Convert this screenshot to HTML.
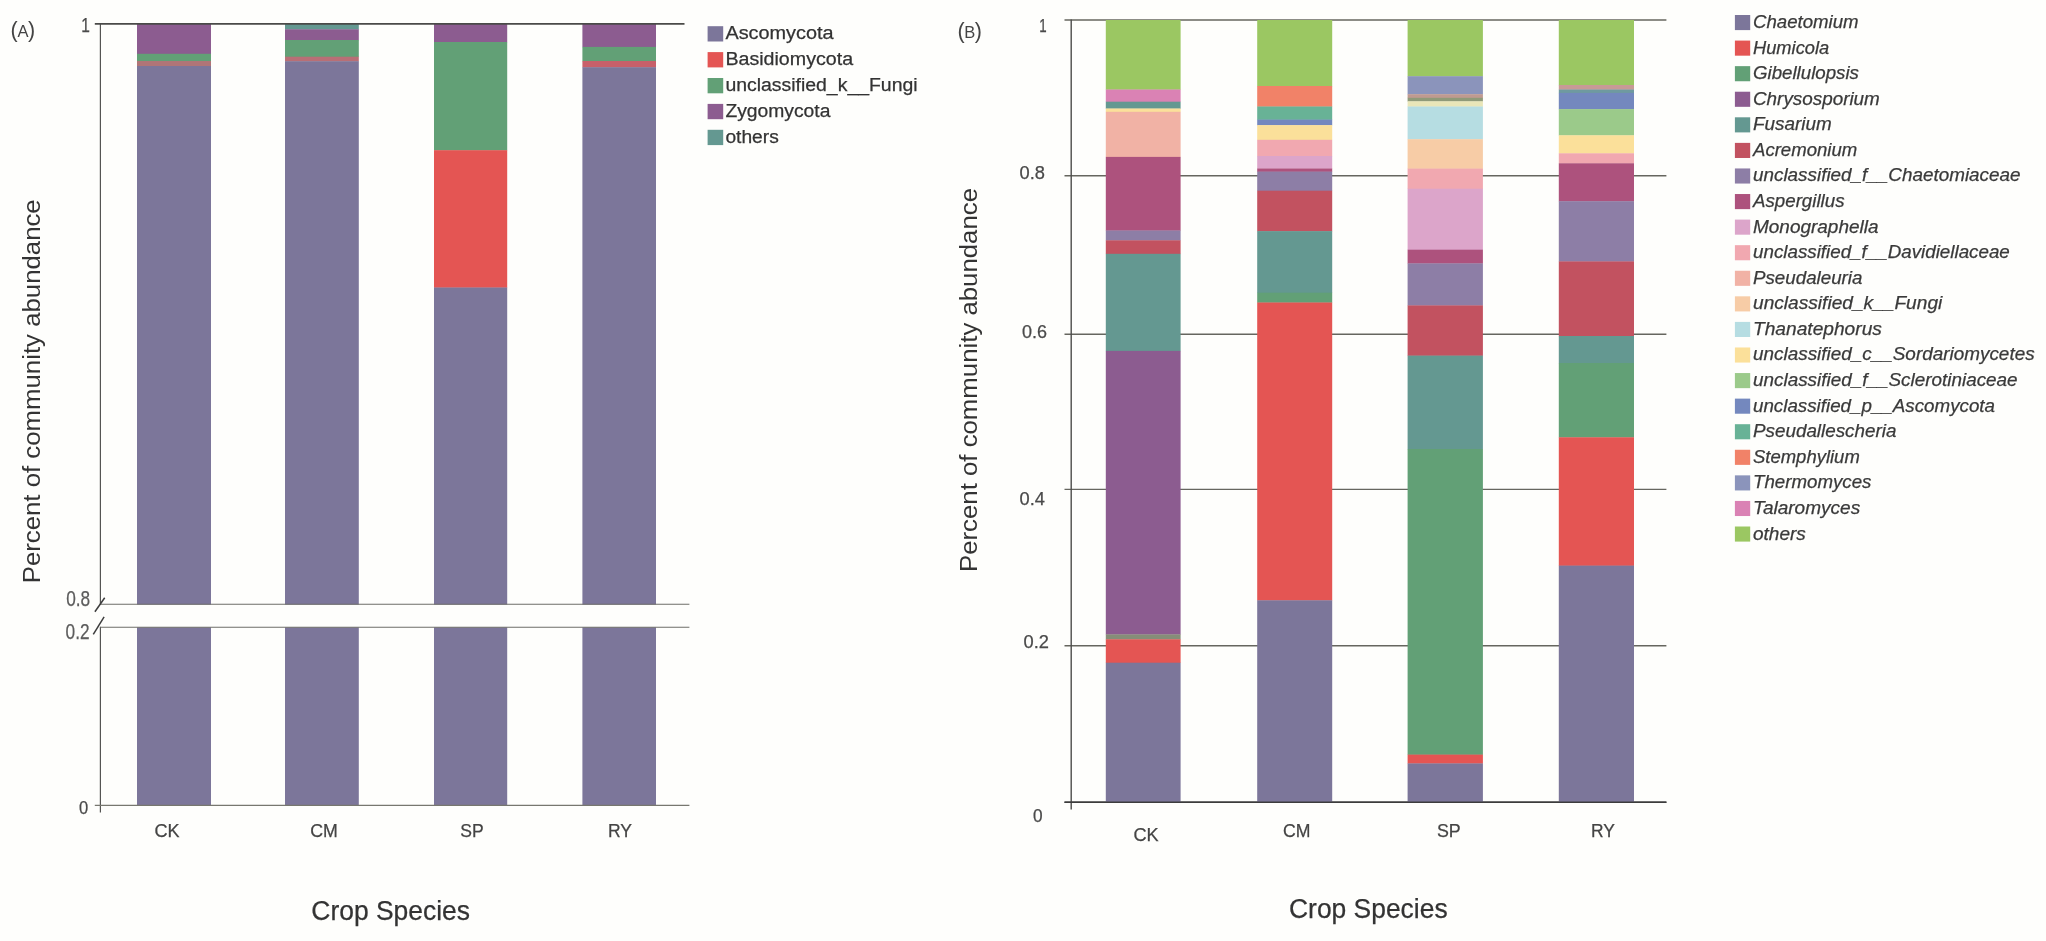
<!DOCTYPE html>
<html lang="en">
<head>
<meta charset="utf-8">
<title>Fungal community abundance</title>
<style>
html,body{margin:0;padding:0;background:#fefefc;}
body{width:2046px;height:941px;overflow:hidden;}
svg{display:block;font-family:"Liberation Sans",Arial,Helvetica,sans-serif;filter:blur(0.45px);}
</style>
</head>
<body>
<svg width="2046" height="941" viewBox="0 0 2046 941">
<rect x="0" y="0" width="2046" height="941" fill="#fefefc"/>
<rect x="137.00" y="23.60" width="74.00" height="30.50" fill="#8c5c90"/>
<rect x="137.00" y="53.80" width="74.00" height="7.50" fill="#62a076"/>
<rect x="137.00" y="61.00" width="74.00" height="5.30" fill="#b07577"/>
<rect x="137.00" y="66.00" width="74.00" height="538.60" fill="#7c769a"/>
<rect x="137.00" y="627.30" width="74.00" height="178.10" fill="#7c769a"/>
<rect x="285.00" y="23.60" width="73.80" height="6.00" fill="#649891"/>
<rect x="285.00" y="29.30" width="73.80" height="11.00" fill="#8c5c90"/>
<rect x="285.00" y="40.00" width="73.80" height="17.00" fill="#62a076"/>
<rect x="285.00" y="56.70" width="73.80" height="4.80" fill="#b86f76"/>
<rect x="285.00" y="61.20" width="73.80" height="543.40" fill="#7c769a"/>
<rect x="285.00" y="627.30" width="73.80" height="178.10" fill="#7c769a"/>
<rect x="434.00" y="23.60" width="73.20" height="18.70" fill="#8c5c90"/>
<rect x="434.00" y="42.00" width="73.20" height="108.50" fill="#62a076"/>
<rect x="434.00" y="150.20" width="73.20" height="137.60" fill="#e45553"/>
<rect x="434.00" y="287.50" width="73.20" height="317.10" fill="#7c769a"/>
<rect x="434.00" y="627.30" width="73.20" height="178.10" fill="#7c769a"/>
<rect x="582.40" y="23.60" width="73.60" height="23.60" fill="#8c5c90"/>
<rect x="582.40" y="46.90" width="73.60" height="14.40" fill="#62a076"/>
<rect x="582.40" y="61.00" width="73.60" height="6.50" fill="#c8606a"/>
<rect x="582.40" y="67.20" width="73.60" height="537.40" fill="#7c769a"/>
<rect x="582.40" y="627.30" width="73.60" height="178.10" fill="#7c769a"/>
<line x1="100.40" y1="23.60" x2="100.40" y2="604.80" stroke="#555553" stroke-width="1.2"/>
<line x1="100.40" y1="626.80" x2="100.40" y2="812.60" stroke="#555553" stroke-width="1.2"/>
<line x1="94.80" y1="23.90" x2="684.50" y2="23.90" stroke="#4a4a48" stroke-width="1.7"/>
<line x1="100.40" y1="604.30" x2="689.40" y2="604.30" stroke="#6e6e68" stroke-width="1.1"/>
<line x1="100.40" y1="627.30" x2="689.40" y2="627.30" stroke="#6e6e68" stroke-width="1.1"/>
<line x1="94.80" y1="805.40" x2="689.40" y2="805.40" stroke="#77776f" stroke-width="1.3"/>
<line x1="94.90" y1="611.80" x2="104.70" y2="597.80" stroke="#3c3c3c" stroke-width="1.5"/>
<line x1="93.30" y1="634.40" x2="104.10" y2="616.90" stroke="#3c3c3c" stroke-width="1.5"/>
<text x="81.20" y="32.20" font-size="20.5" textLength="8.60" lengthAdjust="spacingAndGlyphs" fill="#4a4a4a" stroke="#4a4a4a" stroke-width="0.25" text-anchor="start">1</text>
<text x="66.20" y="605.60" font-size="21.5" textLength="24.00" lengthAdjust="spacingAndGlyphs" fill="#5c5c5c" stroke="#5c5c5c" stroke-width="0.25" text-anchor="start">0.8</text>
<text x="65.60" y="639.20" font-size="21.5" textLength="24.00" lengthAdjust="spacingAndGlyphs" fill="#5c5c5c" stroke="#5c5c5c" stroke-width="0.25" text-anchor="start">0.2</text>
<text x="79.00" y="814.40" font-size="19" textLength="9.20" lengthAdjust="spacingAndGlyphs" fill="#4a4a4a" stroke="#4a4a4a" stroke-width="0.25" text-anchor="start">0</text>
<text x="154.40" y="837.00" font-size="18.5" textLength="25.10" lengthAdjust="spacingAndGlyphs" fill="#444" stroke="#444" stroke-width="0.25" text-anchor="start">CK</text>
<text x="310.30" y="837.00" font-size="18.5" textLength="27.60" lengthAdjust="spacingAndGlyphs" fill="#444" stroke="#444" stroke-width="0.25" text-anchor="start">CM</text>
<text x="460.30" y="837.00" font-size="18.5" textLength="23.40" lengthAdjust="spacingAndGlyphs" fill="#444" stroke="#444" stroke-width="0.25" text-anchor="start">SP</text>
<text x="608.00" y="837.00" font-size="18.5" textLength="24.00" lengthAdjust="spacingAndGlyphs" fill="#444" stroke="#444" stroke-width="0.25" text-anchor="start">RY</text>
<text x="311.30" y="919.50" font-size="27" textLength="158.70" lengthAdjust="spacingAndGlyphs" fill="#333" stroke="#333" stroke-width="0.25" text-anchor="start">Crop Species</text>
<text x="10.60" y="37.20" fill="#444"><tspan font-size="21.5">(</tspan><tspan font-size="16.5" dx="-0.3">A</tspan><tspan font-size="21.5" dx="-0.6">)</tspan></text>
<text x="957.40" y="38.00" fill="#444"><tspan font-size="21.5">(</tspan><tspan font-size="16.5" dx="-0.3">B</tspan><tspan font-size="21.5" dx="-0.6">)</tspan></text>
<text transform="translate(40.1 583.3) rotate(-90)" font-size="23.5" textLength="384" lengthAdjust="spacingAndGlyphs" fill="#333">Percent of community abundance</text>
<rect x="707.60" y="26.20" width="15.60" height="15.30" fill="#7c769a"/>
<text x="725.40" y="38.90" font-size="18" textLength="108.20" lengthAdjust="spacingAndGlyphs" fill="#333" stroke="#333" stroke-width="0.25" text-anchor="start">Ascomycota</text>
<rect x="707.60" y="52.10" width="15.60" height="15.30" fill="#e45553"/>
<text x="725.40" y="64.80" font-size="18" textLength="127.70" lengthAdjust="spacingAndGlyphs" fill="#333" stroke="#333" stroke-width="0.25" text-anchor="start">Basidiomycota</text>
<rect x="707.60" y="78.00" width="15.60" height="15.30" fill="#62a076"/>
<text x="725.40" y="90.70" font-size="18" textLength="192.20" lengthAdjust="spacingAndGlyphs" fill="#333" stroke="#333" stroke-width="0.25" text-anchor="start">unclassified_k__Fungi</text>
<rect x="707.60" y="103.90" width="15.60" height="15.30" fill="#8c5c90"/>
<text x="725.40" y="116.60" font-size="18" textLength="105.00" lengthAdjust="spacingAndGlyphs" fill="#333" stroke="#333" stroke-width="0.25" text-anchor="start">Zygomycota</text>
<rect x="707.60" y="129.80" width="15.60" height="15.30" fill="#649891"/>
<text x="725.40" y="142.50" font-size="18" textLength="53.40" lengthAdjust="spacingAndGlyphs" fill="#333" stroke="#333" stroke-width="0.25" text-anchor="start">others</text>
<line x1="1064.50" y1="20.00" x2="1666.40" y2="20.00" stroke="#66665f" stroke-width="1.4"/>
<line x1="1064.50" y1="175.80" x2="1666.40" y2="175.80" stroke="#66665f" stroke-width="1.4"/>
<line x1="1064.50" y1="334.20" x2="1666.40" y2="334.20" stroke="#66665f" stroke-width="1.4"/>
<line x1="1064.50" y1="489.40" x2="1666.40" y2="489.40" stroke="#66665f" stroke-width="1.4"/>
<line x1="1064.50" y1="645.70" x2="1666.40" y2="645.70" stroke="#66665f" stroke-width="1.4"/>
<line x1="1064.50" y1="802.30" x2="1666.40" y2="802.30" stroke="#3c3c3c" stroke-width="1.6"/>
<line x1="1071.20" y1="19.40" x2="1071.20" y2="809.40" stroke="#4c4c4a" stroke-width="1.4"/>
<rect x="1105.80" y="20.00" width="74.80" height="69.80" fill="#9bc762"/>
<rect x="1105.80" y="89.50" width="74.80" height="12.50" fill="#da82b4"/>
<rect x="1105.80" y="101.70" width="74.80" height="7.10" fill="#649891"/>
<rect x="1105.80" y="108.50" width="74.80" height="3.60" fill="#fbe09a"/>
<rect x="1105.80" y="111.80" width="74.80" height="45.40" fill="#f1b2a5"/>
<rect x="1105.80" y="156.90" width="74.80" height="73.90" fill="#ad527d"/>
<rect x="1105.80" y="230.50" width="74.80" height="10.10" fill="#8d7ea6"/>
<rect x="1105.80" y="240.30" width="74.80" height="13.80" fill="#c25260"/>
<rect x="1105.80" y="253.80" width="74.80" height="97.40" fill="#649891"/>
<rect x="1105.80" y="350.90" width="74.80" height="283.80" fill="#8c5c90"/>
<rect x="1105.80" y="634.40" width="74.80" height="5.20" fill="#868d78"/>
<rect x="1105.80" y="639.30" width="74.80" height="23.70" fill="#e45553"/>
<rect x="1105.80" y="662.70" width="74.80" height="139.90" fill="#7c769a"/>
<rect x="1257.20" y="20.00" width="75.00" height="66.30" fill="#9bc762"/>
<rect x="1257.20" y="86.00" width="75.00" height="20.80" fill="#f18268"/>
<rect x="1257.20" y="106.50" width="75.00" height="13.40" fill="#68b296"/>
<rect x="1257.20" y="119.60" width="75.00" height="5.80" fill="#7488be"/>
<rect x="1257.20" y="125.10" width="75.00" height="15.00" fill="#fbe09a"/>
<rect x="1257.20" y="139.80" width="75.00" height="16.50" fill="#f1a8b0"/>
<rect x="1257.20" y="156.00" width="75.00" height="12.80" fill="#dca5ca"/>
<rect x="1257.20" y="168.50" width="75.00" height="3.40" fill="#ad527d"/>
<rect x="1257.20" y="171.60" width="75.00" height="19.40" fill="#8d7ea6"/>
<rect x="1257.20" y="190.70" width="75.00" height="40.70" fill="#c25260"/>
<rect x="1257.20" y="231.10" width="75.00" height="61.90" fill="#649891"/>
<rect x="1257.20" y="292.70" width="75.00" height="10.10" fill="#62a076"/>
<rect x="1257.20" y="302.50" width="75.00" height="298.10" fill="#e45553"/>
<rect x="1257.20" y="600.30" width="75.00" height="202.30" fill="#7c769a"/>
<rect x="1407.60" y="20.00" width="75.30" height="56.50" fill="#9bc762"/>
<rect x="1407.60" y="76.20" width="75.30" height="18.30" fill="#8b94bb"/>
<rect x="1407.60" y="94.20" width="75.30" height="3.90" fill="#c09a90"/>
<rect x="1407.60" y="97.80" width="75.30" height="3.80" fill="#8f9a78"/>
<rect x="1407.60" y="101.30" width="75.30" height="5.50" fill="#e9e6b8"/>
<rect x="1407.60" y="106.50" width="75.30" height="33.00" fill="#b6dde2"/>
<rect x="1407.60" y="139.20" width="75.30" height="29.70" fill="#f7cca6"/>
<rect x="1407.60" y="168.60" width="75.30" height="20.40" fill="#f1a8b0"/>
<rect x="1407.60" y="188.70" width="75.30" height="61.30" fill="#dca5ca"/>
<rect x="1407.60" y="249.70" width="75.30" height="14.00" fill="#ad527d"/>
<rect x="1407.60" y="263.40" width="75.30" height="42.30" fill="#8d7ea6"/>
<rect x="1407.60" y="305.40" width="75.30" height="50.50" fill="#c25260"/>
<rect x="1407.60" y="355.60" width="75.30" height="93.70" fill="#649891"/>
<rect x="1407.60" y="449.00" width="75.30" height="305.90" fill="#62a076"/>
<rect x="1407.60" y="754.60" width="75.30" height="9.10" fill="#e45553"/>
<rect x="1407.60" y="763.40" width="75.30" height="39.20" fill="#7c769a"/>
<rect x="1558.80" y="20.00" width="75.20" height="65.30" fill="#9bc762"/>
<rect x="1558.80" y="85.00" width="75.20" height="4.80" fill="#c79a96"/>
<rect x="1558.80" y="89.50" width="75.20" height="3.70" fill="#6f9aa0"/>
<rect x="1558.80" y="92.90" width="75.20" height="16.50" fill="#7488be"/>
<rect x="1558.80" y="109.10" width="75.20" height="26.50" fill="#9bca8a"/>
<rect x="1558.80" y="135.30" width="75.20" height="18.30" fill="#fbe09a"/>
<rect x="1558.80" y="153.30" width="75.20" height="10.30" fill="#f1a8b0"/>
<rect x="1558.80" y="163.30" width="75.20" height="38.20" fill="#ad527d"/>
<rect x="1558.80" y="201.20" width="75.20" height="60.50" fill="#8d7ea6"/>
<rect x="1558.80" y="261.40" width="75.20" height="74.90" fill="#c25260"/>
<rect x="1558.80" y="336.00" width="75.20" height="27.30" fill="#649891"/>
<rect x="1558.80" y="363.00" width="75.20" height="74.60" fill="#62a076"/>
<rect x="1558.80" y="437.30" width="75.20" height="128.60" fill="#e45553"/>
<rect x="1558.80" y="565.60" width="75.20" height="237.00" fill="#7c769a"/>
<line x1="1064.50" y1="802.30" x2="1666.40" y2="802.30" stroke="#3c3c3c" stroke-width="1.6"/>
<text x="1039.20" y="32.20" font-size="17.5" textLength="7.40" lengthAdjust="spacingAndGlyphs" fill="#4a4a4a" stroke="#4a4a4a" stroke-width="0.25" text-anchor="start">1</text>
<text x="1019.60" y="178.80" font-size="17.5" textLength="25.40" lengthAdjust="spacingAndGlyphs" fill="#4a4a4a" stroke="#4a4a4a" stroke-width="0.25" text-anchor="start">0.8</text>
<text x="1021.90" y="338.40" font-size="17.5" textLength="25.00" lengthAdjust="spacingAndGlyphs" fill="#4a4a4a" stroke="#4a4a4a" stroke-width="0.25" text-anchor="start">0.6</text>
<text x="1019.60" y="504.80" font-size="17.5" textLength="25.40" lengthAdjust="spacingAndGlyphs" fill="#4a4a4a" stroke="#4a4a4a" stroke-width="0.25" text-anchor="start">0.4</text>
<text x="1023.50" y="647.50" font-size="17.5" textLength="25.40" lengthAdjust="spacingAndGlyphs" fill="#4a4a4a" stroke="#4a4a4a" stroke-width="0.25" text-anchor="start">0.2</text>
<text x="1033.00" y="822.30" font-size="17.5" textLength="9.60" lengthAdjust="spacingAndGlyphs" fill="#4a4a4a" stroke="#4a4a4a" stroke-width="0.25" text-anchor="start">0</text>
<text x="1133.50" y="840.60" font-size="18.5" textLength="25.20" lengthAdjust="spacingAndGlyphs" fill="#444" stroke="#444" stroke-width="0.25" text-anchor="start">CK</text>
<text x="1283.00" y="837.40" font-size="18.5" textLength="27.50" lengthAdjust="spacingAndGlyphs" fill="#444" stroke="#444" stroke-width="0.25" text-anchor="start">CM</text>
<text x="1436.90" y="837.40" font-size="18.5" textLength="23.80" lengthAdjust="spacingAndGlyphs" fill="#444" stroke="#444" stroke-width="0.25" text-anchor="start">SP</text>
<text x="1590.90" y="837.40" font-size="18.5" textLength="23.90" lengthAdjust="spacingAndGlyphs" fill="#444" stroke="#444" stroke-width="0.25" text-anchor="start">RY</text>
<text x="1289.00" y="918.00" font-size="27" textLength="158.60" lengthAdjust="spacingAndGlyphs" fill="#333" stroke="#333" stroke-width="0.25" text-anchor="start">Crop Species</text>
<text transform="translate(976.7 572.0) rotate(-90)" font-size="23.5" textLength="384" lengthAdjust="spacingAndGlyphs" fill="#333">Percent of community abundance</text>
<rect x="1734.90" y="15.00" width="15.30" height="15.10" fill="#7c769a"/>
<text x="1753.00" y="28.00" font-size="18" font-style="italic" textLength="105.50" lengthAdjust="spacingAndGlyphs" fill="#3a3a3a" stroke="#3a3a3a" stroke-width="0.25" text-anchor="start">Chaetomium</text>
<rect x="1734.90" y="40.58" width="15.30" height="15.10" fill="#e45553"/>
<text x="1753.00" y="53.58" font-size="18" font-style="italic" textLength="76.20" lengthAdjust="spacingAndGlyphs" fill="#3a3a3a" stroke="#3a3a3a" stroke-width="0.25" text-anchor="start">Humicola</text>
<rect x="1734.90" y="66.15" width="15.30" height="15.10" fill="#62a076"/>
<text x="1753.00" y="79.15" font-size="18" font-style="italic" textLength="105.90" lengthAdjust="spacingAndGlyphs" fill="#3a3a3a" stroke="#3a3a3a" stroke-width="0.25" text-anchor="start">Gibellulopsis</text>
<rect x="1734.90" y="91.72" width="15.30" height="15.10" fill="#8c5c90"/>
<text x="1753.00" y="104.72" font-size="18" font-style="italic" textLength="126.80" lengthAdjust="spacingAndGlyphs" fill="#3a3a3a" stroke="#3a3a3a" stroke-width="0.25" text-anchor="start">Chrysosporium</text>
<rect x="1734.90" y="117.30" width="15.30" height="15.10" fill="#649891"/>
<text x="1753.00" y="130.30" font-size="18" font-style="italic" textLength="78.70" lengthAdjust="spacingAndGlyphs" fill="#3a3a3a" stroke="#3a3a3a" stroke-width="0.25" text-anchor="start">Fusarium</text>
<rect x="1734.90" y="142.88" width="15.30" height="15.10" fill="#c25260"/>
<text x="1753.00" y="155.88" font-size="18" font-style="italic" textLength="104.30" lengthAdjust="spacingAndGlyphs" fill="#3a3a3a" stroke="#3a3a3a" stroke-width="0.25" text-anchor="start">Acremonium</text>
<rect x="1734.90" y="168.45" width="15.30" height="15.10" fill="#8d7ea6"/>
<text x="1753.00" y="181.45" font-size="18" font-style="italic" textLength="267.50" lengthAdjust="spacingAndGlyphs" fill="#3a3a3a" stroke="#3a3a3a" stroke-width="0.25" text-anchor="start">unclassified_f__Chaetomiaceae</text>
<rect x="1734.90" y="194.03" width="15.30" height="15.10" fill="#ad527d"/>
<text x="1753.00" y="207.03" font-size="18" font-style="italic" textLength="91.50" lengthAdjust="spacingAndGlyphs" fill="#3a3a3a" stroke="#3a3a3a" stroke-width="0.25" text-anchor="start">Aspergillus</text>
<rect x="1734.90" y="219.60" width="15.30" height="15.10" fill="#dca5ca"/>
<text x="1753.00" y="232.60" font-size="18" font-style="italic" textLength="125.50" lengthAdjust="spacingAndGlyphs" fill="#3a3a3a" stroke="#3a3a3a" stroke-width="0.25" text-anchor="start">Monographella</text>
<rect x="1734.90" y="245.17" width="15.30" height="15.10" fill="#f1a8b0"/>
<text x="1753.00" y="258.17" font-size="18" font-style="italic" textLength="256.80" lengthAdjust="spacingAndGlyphs" fill="#3a3a3a" stroke="#3a3a3a" stroke-width="0.25" text-anchor="start">unclassified_f__Davidiellaceae</text>
<rect x="1734.90" y="270.75" width="15.30" height="15.10" fill="#f1b2a5"/>
<text x="1753.00" y="283.75" font-size="18" font-style="italic" textLength="109.40" lengthAdjust="spacingAndGlyphs" fill="#3a3a3a" stroke="#3a3a3a" stroke-width="0.25" text-anchor="start">Pseudaleuria</text>
<rect x="1734.90" y="296.32" width="15.30" height="15.10" fill="#f7cca6"/>
<text x="1753.00" y="309.32" font-size="18" font-style="italic" textLength="189.30" lengthAdjust="spacingAndGlyphs" fill="#3a3a3a" stroke="#3a3a3a" stroke-width="0.25" text-anchor="start">unclassified_k__Fungi</text>
<rect x="1734.90" y="321.90" width="15.30" height="15.10" fill="#b6dde2"/>
<text x="1753.00" y="334.90" font-size="18" font-style="italic" textLength="128.90" lengthAdjust="spacingAndGlyphs" fill="#3a3a3a" stroke="#3a3a3a" stroke-width="0.25" text-anchor="start">Thanatephorus</text>
<rect x="1734.90" y="347.47" width="15.30" height="15.10" fill="#fbe09a"/>
<text x="1753.00" y="360.47" font-size="18" font-style="italic" textLength="281.60" lengthAdjust="spacingAndGlyphs" fill="#3a3a3a" stroke="#3a3a3a" stroke-width="0.25" text-anchor="start">unclassified_c__Sordariomycetes</text>
<rect x="1734.90" y="373.05" width="15.30" height="15.10" fill="#9bca8a"/>
<text x="1753.00" y="386.05" font-size="18" font-style="italic" textLength="264.60" lengthAdjust="spacingAndGlyphs" fill="#3a3a3a" stroke="#3a3a3a" stroke-width="0.25" text-anchor="start">unclassified_f__Sclerotiniaceae</text>
<rect x="1734.90" y="398.62" width="15.30" height="15.10" fill="#7488be"/>
<text x="1753.00" y="411.62" font-size="18" font-style="italic" textLength="242.00" lengthAdjust="spacingAndGlyphs" fill="#3a3a3a" stroke="#3a3a3a" stroke-width="0.25" text-anchor="start">unclassified_p__Ascomycota</text>
<rect x="1734.90" y="424.20" width="15.30" height="15.10" fill="#68b296"/>
<text x="1753.00" y="437.20" font-size="18" font-style="italic" textLength="143.40" lengthAdjust="spacingAndGlyphs" fill="#3a3a3a" stroke="#3a3a3a" stroke-width="0.25" text-anchor="start">Pseudallescheria</text>
<rect x="1734.90" y="449.77" width="15.30" height="15.10" fill="#f18268"/>
<text x="1753.00" y="462.77" font-size="18" font-style="italic" textLength="106.80" lengthAdjust="spacingAndGlyphs" fill="#3a3a3a" stroke="#3a3a3a" stroke-width="0.25" text-anchor="start">Stemphylium</text>
<rect x="1734.90" y="475.35" width="15.30" height="15.10" fill="#8b94bb"/>
<text x="1753.00" y="488.35" font-size="18" font-style="italic" textLength="118.40" lengthAdjust="spacingAndGlyphs" fill="#3a3a3a" stroke="#3a3a3a" stroke-width="0.25" text-anchor="start">Thermomyces</text>
<rect x="1734.90" y="500.93" width="15.30" height="15.10" fill="#da82b4"/>
<text x="1753.00" y="513.92" font-size="18" font-style="italic" textLength="107.20" lengthAdjust="spacingAndGlyphs" fill="#3a3a3a" stroke="#3a3a3a" stroke-width="0.25" text-anchor="start">Talaromyces</text>
<rect x="1734.90" y="526.50" width="15.30" height="15.10" fill="#9bc762"/>
<text x="1753.00" y="539.50" font-size="18" font-style="italic" textLength="52.80" lengthAdjust="spacingAndGlyphs" fill="#3a3a3a" stroke="#3a3a3a" stroke-width="0.25" text-anchor="start">others</text>
</svg>
</body>
</html>
